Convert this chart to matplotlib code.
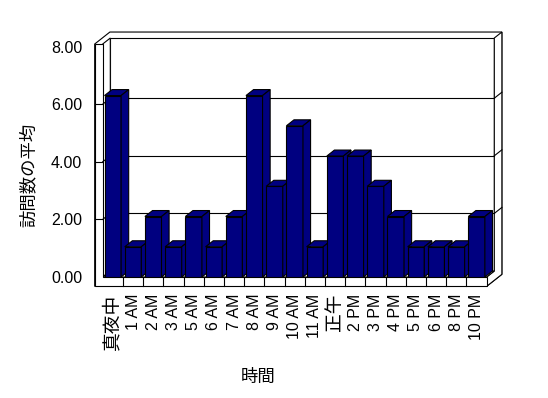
import matplotlib
matplotlib.use('Agg')
import matplotlib.pyplot as plt
from matplotlib.patches import Polygon

plt.rcParams['font.family'] = ['Liberation Sans', 'Noto Sans CJK JP']

hours = ['真夜中', '1 AM', '2 AM', '3 AM', '5 AM', '6 AM', '7 AM', '8 AM', '9 AM',
         '10 AM', '11 AM', '正午', '2 PM', '3 PM', '4 PM', '5 PM', '6 PM', '8 PM', '10 PM']
avg_visits = [6.3, 1.05, 2.1, 1.05, 2.1, 1.05, 2.1, 6.3, 3.15,
              5.25, 1.05, 4.2, 4.2, 3.15, 2.1, 1.05, 1.05, 1.05, 2.1]
yticks = [0, 2, 4, 6, 8]
grid_vals = [2, 4, 6]

bar_color = '#000080'
lw = 0.8

fig = plt.figure(figsize=(5.48, 3.98), dpi=100)
ax = fig.add_axes([0.1874, 0.3040, 0.7007, 0.5789])
ax.set_xlim(-0.5, len(hours) - 0.5)
ax.set_ylim(0, 8)
for s in ax.spines.values():
    s.set_visible(False)
ax.patch.set_visible(False)

# 3d look: depth offset and wall sizes (data units)
dx, dy = 0.376, 0.208
L = -0.5 - 0.396
R = len(hours) - 0.5
fl = 0.323
ytop = 8.09

def poly(pts, z, fc='white'):
    p = Polygon(pts, closed=True, facecolor=fc, edgecolor='black', lw=lw,
                zorder=z, clip_on=False, joinstyle='miter')
    ax.add_patch(p)

def line(xs, ys, z=3):
    ax.plot(xs, ys, color='black', lw=lw, zorder=z, clip_on=False)

# outer silhouette of the walls
poly([(L, ytop), (L + 2 * dx, ytop + 2 * dy), (R + 2 * dx, ytop + 2 * dy),
      (R + 2 * dx, -fl + 2 * dy), (R, -fl), (L, -fl)], 1)
# back wall
poly([(-0.5 + dx, dy), (R + dx, dy), (R + dx, ytop + dy), (-0.5 + dx, ytop + dy)], 2)
# left wall inner side
poly([(-0.5, 0), (-0.5, ytop), (-0.5 + dx, ytop + dy), (-0.5 + dx, dy)], 2)
# right side of the back wall
poly([(R + dx, dy), (R + dx, ytop + dy), (R + 2 * dx, ytop + 2 * dy),
      (R + 2 * dx, -fl + 2 * dy), (R, -fl), (R, 0)], 2)
# floor top
poly([(-0.5, 0), (R, 0), (R + dx, dy), (-0.5 + dx, dy)], 2)
# front of left wall + floor
poly([(L, -fl), (R, -fl), (R, 0), (-0.5, 0), (-0.5, ytop), (L, ytop)], 2)

for g in grid_vals:
    line([-0.5 + dx, R + dx], [g + dy, g + dy])
    line([-0.5, -0.5 + dx], [g, g + dy])
    line([L, -0.5], [g, g])
    line([R + dx, R + 2 * dx], [g + dy, g + 2 * dy])

for i in range(len(hours) - 1):
    line([i + 0.5, i + 0.5], [-fl, 0])

# bars
width = 0.82
bars = ax.bar(range(len(hours)), avg_visits, width=width, color=bar_color,
              edgecolor='black', linewidth=lw)
for i, (b, v) in enumerate(zip(bars, avg_visits)):
    z = 10 + i
    b.set_zorder(z)
    x0 = b.get_x()
    x1 = x0 + b.get_width()
    poly([(x0, v), (x1, v), (x1 + dx, v + dy), (x0 + dx, v + dy)], z, bar_color)
    poly([(x1, 0), (x1, v), (x1 + dx, v + dy), (x1 + dx, dy)], z, bar_color)

ax.set_yticks(yticks, ['%.2f' % t for t in yticks])
ax.set_xticks(range(len(hours)), hours, rotation=90)
ax.tick_params(axis='y', length=0, pad=14.9, labelsize=11.5)
ax.tick_params(axis='x', length=0, pad=11.7, labelsize=11.5)
for lab in ax.get_xticklabels():
    lab.set_verticalalignment('top')
    if lab.get_text() in ('真夜中', '正午'):
        lab.set_fontsize(13.5)

fig.text(28 / 548, 1 - 175 / 398, '訪問数の平均', rotation=90, ha='center',
         va='center', fontsize=12.5)
fig.text(258 / 548, 1 - 377 / 398, '時間', ha='center', va='center', fontsize=12.5)

fig.savefig('out.png', dpi=100)
